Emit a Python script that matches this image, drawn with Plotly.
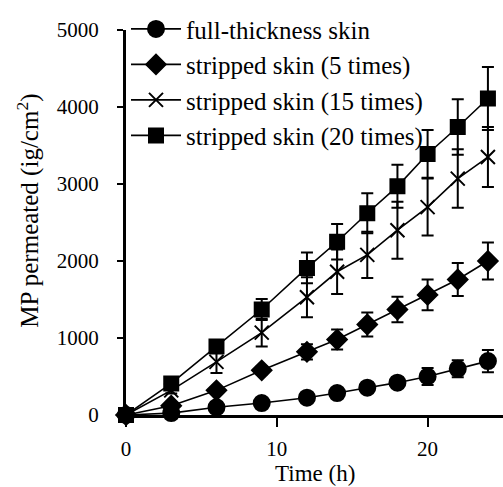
import plotly.graph_objects as go

# Sampling times (h)
time_h = [0, 3, 6, 9, 12, 14, 16, 18, 20, 22, 24]

# Cumulative amount permeated (mean) and SD for each skin condition
full_thickness = [0, 25, 100, 155, 225, 285, 355, 420, 500, 600, 700]
full_thickness_sd = [0, 10, 15, 25, 35, 45, 50, 60, 110, 110, 145]

stripped_5 = [0, 120, 320, 580, 820, 980, 1175, 1370, 1560, 1760, 2000]
stripped_5_sd = [0, 20, 30, 50, 100, 130, 155, 165, 200, 215, 240]

stripped_15 = [0, 320, 690, 1070, 1530, 1860, 2080, 2400, 2700, 3070, 3350]
stripped_15_sd = [0, 40, 145, 180, 260, 290, 300, 370, 370, 380, 390]

stripped_20 = [0, 410, 890, 1370, 1910, 2250, 2620, 2970, 3390, 3740, 4110]
stripped_20_sd = [0, 30, 60, 135, 200, 230, 260, 280, 310, 360, 410]

series_names = [
    "full-thickness skin",
    "stripped skin (5 times)",
    "stripped skin (15 times)",
    "stripped skin (20 times)",
]

FONT = "Liberation Serif"

series = [
    (full_thickness, full_thickness_sd, "circle", 16),
    (stripped_5, stripped_5_sd, "diamond", 15),
    (stripped_15, stripped_15_sd, "x-thin-open", 14),
    (stripped_20, stripped_20_sd, "square", 14),
]

fig = go.Figure()
for i, (name, (vals, sd, sym, size)) in enumerate(zip(series_names, series)):
    fig.add_trace(go.Scatter(
        x=time_h, y=vals, name=name, mode="lines+markers",
        legendgroup=f"g{i}",
        line=dict(color="black", width=1.6),
        marker=dict(symbol=sym, size=size, color="black",
                    line=dict(color="black", width=2)),
        error_y=dict(type="data", array=sd, visible=True,
                     color="black", thickness=2, width=6),
        cliponaxis=False,
    ))

fig.update_layout(
    width=503, height=487,
    margin=dict(l=126, r=0, t=30, b=72),
    paper_bgcolor="white", plot_bgcolor="white",
    font=dict(family=FONT, color="black", size=22),
    showlegend=True,
    legend=dict(
        x=0.0, y=1.062, xanchor="left", yanchor="top",
        bgcolor="rgba(0,0,0,0)", borderwidth=0,
        font=dict(family=FONT, size=25, color="black"),
        tracegroupgap=0, itemwidth=50,
    ),
    xaxis=dict(
        range=[0, 25], showgrid=False, zeroline=False,
        showline=True, linecolor="black", linewidth=3,
        ticks="outside", tickcolor="black", ticklen=9, tickwidth=2,
        tickvals=[0, 10, 20], ticklabelstandoff=4,
        tickfont=dict(family=FONT, size=21),
    ),
    yaxis=dict(
        range=[0, 5000], showgrid=False, zeroline=False,
        showline=True, linecolor="black", linewidth=3,
        ticks="outside", tickcolor="black", ticklen=6, tickwidth=2,
        tickvals=[0, 1000, 2000, 3000, 4000, 5000], ticklabelstandoff=14,
        tickfont=dict(family=FONT, size=21),
    ),
    annotations=[
        dict(
            text="MP permeated (ig/cm<sup>2</sup>)",
            xref="paper", yref="paper", x=-0.258, y=0.53,
            xanchor="center", yanchor="middle", textangle=-90,
            showarrow=False, font=dict(family=FONT, size=25, color="black"),
        ),
        dict(
            text="Time (h)",
            xref="paper", yref="paper", x=0.5, y=-0.188,
            xanchor="center", yanchor="bottom", borderpad=0,
            showarrow=False, font=dict(family=FONT, size=23, color="black"),
        ),
    ],
)

fig.write_html("out.html")
